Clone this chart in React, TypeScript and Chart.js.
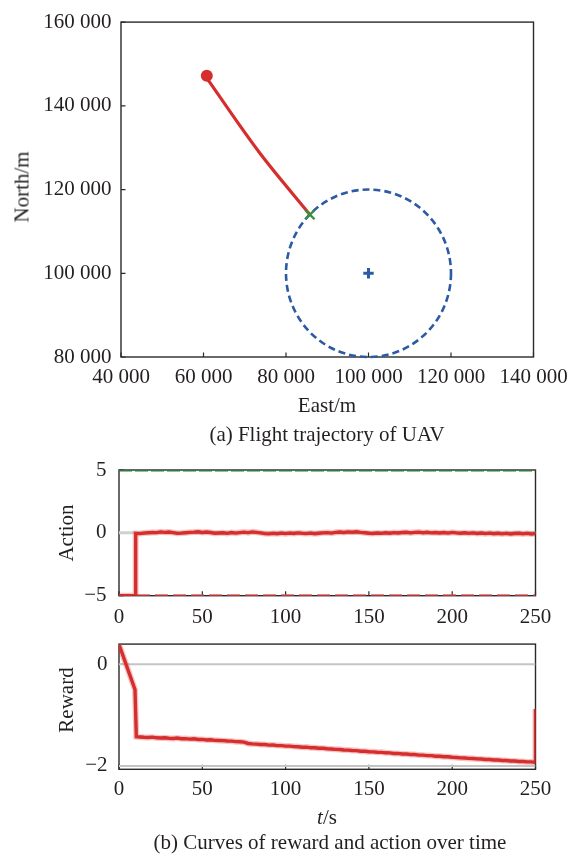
import React, { useEffect, useRef } from "react";
import { Chart, registerables } from "chart.js";

Chart.register(...registerables);

const FONT = '"Liberation Serif", "Times New Roman", Times, serif';
const INK = "#231f20";
const RED = "#d62d2d";
const RED_HALO = "rgba(214,45,45,0.28)";
const BLUE = "#2c5aa3";
const GREEN_MARK = "#3a8f3e";
const GREEN_LINE = "#2f7a3c";
const GREY = "#c4c4c4";

// ---------- (a) Flight trajectory ----------
const EAST_TICKS = [40000, 60000, 80000, 100000, 120000, 140000];
const NORTH_TICKS = [80000, 100000, 120000, 140000, 160000];
const TRAJ_EAST = [60800, 73500, 85800];
const TRAJ_NORTH = [146600, 128900, 114000];
const START_EAST = [60800];
const START_NORTH = [147200];
const END_EAST = [85800];
const END_NORTH = [114000];
const TARGET_EAST = [100000];
const TARGET_NORTH = [100000];
const TARGET_RADIUS = 20000;

// ---------- (b) Action & reward ----------
const TIME_TICKS = [0, 50, 100, 150, 200, 250];
const ACTION_TICKS = [-5, 0, 5];
const REWARD_TICKS = [-2, 0];
const ACTION_LIMITS = [5, -5];
const REWARD_REFS = [0, -2];

const SAMPLE_T = [
  12.5, 15, 17.5, 20, 22.5, 25, 27.5, 30,
  32.5, 35, 37.5, 40, 42.5, 45, 47.5, 50,
  52.5, 55, 57.5, 60, 62.5, 65, 67.5, 70,
  72.5, 75, 77.5, 80, 82.5, 85, 87.5, 90,
  92.5, 95, 97.5, 100, 102.5, 105, 107.5, 110,
  112.5, 115, 117.5, 120, 122.5, 125, 127.5, 130,
  132.5, 135, 137.5, 140, 142.5, 145, 147.5, 150,
  152.5, 155, 157.5, 160, 162.5, 165, 167.5, 170,
  172.5, 175, 177.5, 180, 182.5, 185, 187.5, 190,
  192.5, 195, 197.5, 200, 202.5, 205, 207.5, 210,
  212.5, 215, 217.5, 220, 222.5, 225, 227.5, 230,
  232.5, 235, 237.5, 240, 242.5, 245, 247.5, 250,
];

const ACTION_HEAD_T = [0, 9.8, 10.0];
const ACTION_HEAD_V = [-5, -5, -0.05];
const ACTION_V = [
  -0.06, -0.02, 0.01, 0.03, 0.02, 0.08, 0.04, 0.07,
  0.02, -0.04, -0.02, 0.01, 0.04, 0.06, 0.09, 0.03,
  0.07, 0.03, -0.03, -0.01, 0.01, -0.04, 0.03, -0.02,
  0.02, 0.06, 0.02, 0.08, 0.04, 0.0, -0.06, -0.08,
  -0.04, -0.07, -0.02, -0.06, -0.02, -0.05, 0.0, -0.04,
  -0.06, -0.02, -0.07, -0.03, 0.0, 0.02, -0.02, 0.04,
  0.07, 0.03, 0.08, 0.05, 0.09, 0.04, 0.01, -0.03,
  -0.05, -0.01, -0.04, 0.01, -0.03, 0.02, -0.01, 0.03,
  0.05, 0.0, 0.04, 0.06, 0.01, 0.05, 0.0, 0.03,
  -0.01, 0.03, -0.02, 0.04, 0.0, -0.03, 0.01, -0.04,
  0.0, -0.05, -0.01, -0.06, -0.02, -0.07, -0.03, -0.08,
  -0.04, -0.09, -0.05, -0.03, -0.08, -0.04, -0.09, -0.06,
];

const REWARD_HEAD_T = [0, 9.6, 10.4];
const REWARD_HEAD_V = [0.39, -0.5, -1.425];
const REWARD_V = [
  -1.43, -1.437, -1.44, -1.434, -1.447, -1.45, -1.445, -1.455,
  -1.46, -1.452, -1.465, -1.462, -1.472, -1.466, -1.48, -1.478,
  -1.49, -1.484, -1.497, -1.5, -1.503, -1.51, -1.512, -1.522,
  -1.524, -1.532, -1.558, -1.567, -1.57, -1.578, -1.578, -1.59,
  -1.588, -1.6, -1.6, -1.61, -1.61, -1.62, -1.623, -1.632,
  -1.63, -1.642, -1.643, -1.652, -1.653, -1.662, -1.666, -1.674,
  -1.676, -1.687, -1.688, -1.697, -1.698, -1.71, -1.71, -1.72,
  -1.723, -1.73, -1.733, -1.742, -1.743, -1.754, -1.753, -1.764,
  -1.766, -1.774, -1.776, -1.787, -1.788, -1.797, -1.798, -1.808,
  -1.81, -1.82, -1.82, -1.83, -1.833, -1.842, -1.843, -1.852,
  -1.853, -1.862, -1.864, -1.872, -1.874, -1.882, -1.884, -1.892,
  -1.893, -1.902, -1.903, -1.912, -1.913, -1.92, -1.92, -1.93,
];
const REWARD_TAIL_T = [250];
const REWARD_TAIL_V = [-0.88];

// ---------- helpers ----------
function pts(xs: number[], ys: number[]) {
  const out: { x: number; y: number }[] = [];
  for (let i = 0; i < Math.min(xs.length, ys.length); i++) out.push({ x: xs[i], y: ys[i] });
  return out;
}

function fmt(v: number) {
  const neg = v < 0;
  const a = Math.abs(v);
  let s = String(a);
  if (a >= 10000) s = s.replace(/\B(?=(\d{3})+(?!\d))/g, " ");
  return (neg ? "\u2212" : "") + s;
}

function axisX(min: number, max: number, ticks: number[], height: number, pad: number) {
  return {
    type: "linear",
    min,
    max,
    afterBuildTicks: (s: any) => {
      s.ticks = ticks.map((v) => ({ value: v }));
    },
    afterFit: (s: any) => {
      s.height = height;
    },
    grid: { display: false, drawTicks: false },
    border: { display: false },
    ticks: {
      padding: pad,
      color: INK,
      autoSkip: false,
      maxRotation: 0,
      font: { family: FONT, size: 21 },
      callback: (v: any) => fmt(Number(v)),
    },
  };
}

function axisY(min: number, max: number, ticks: number[], width: number, pad: number) {
  return {
    type: "linear",
    min,
    max,
    afterBuildTicks: (s: any) => {
      s.ticks = ticks.map((v) => ({ value: v }));
    },
    afterFit: (s: any) => {
      s.width = width;
    },
    grid: { display: false, drawTicks: false },
    border: { display: false },
    ticks: {
      padding: pad,
      color: INK,
      autoSkip: false,
      font: { family: FONT, size: 21 },
      callback: (v: any) => fmt(Number(v)),
    },
  };
}

function framePlugin(extra?: (chart: any) => void) {
  return {
    id: "frame",
    beforeDatasetsDraw(chart: any) {
      const { ctx, chartArea: a, scales } = chart;
      ctx.save();
      ctx.strokeStyle = "#2a2a2a";
      ctx.lineWidth = 1.4;
      ctx.strokeRect(a.left, a.top, a.right - a.left, a.bottom - a.top);
      ctx.lineWidth = 1.2;
      ctx.beginPath();
      scales.x.ticks.forEach((t: any) => {
        const px = scales.x.getPixelForValue(t.value);
        ctx.moveTo(px, a.bottom);
        ctx.lineTo(px, a.bottom - 4.5);
      });
      scales.y.ticks.forEach((t: any) => {
        const py = scales.y.getPixelForValue(t.value);
        ctx.moveTo(a.left, py);
        ctx.lineTo(a.left + 4.5, py);
      });
      ctx.stroke();
      ctx.restore();
      if (extra) extra(chart);
    },
  };
}

const baseOptions = (padding: any, x: any, y: any) => ({
  responsive: false,
  maintainAspectRatio: false,
  animation: false,
  devicePixelRatio: 1,
  layout: { padding },
  plugins: { legend: { display: false }, tooltip: { enabled: false } },
  scales: { x, y },
});

function buildTrajectory(canvas: HTMLCanvasElement) {
  const targetCircle = (chart: any) => {
    const { ctx, scales } = chart;
    const cx = scales.x.getPixelForValue(TARGET_EAST[0]);
    const cy = scales.y.getPixelForValue(TARGET_NORTH[0]);
    const rx = Math.abs(scales.x.getPixelForValue(TARGET_EAST[0] + TARGET_RADIUS) - cx);
    const ry = Math.abs(scales.y.getPixelForValue(TARGET_NORTH[0] + TARGET_RADIUS) - cy);
    ctx.save();
    ctx.strokeStyle = BLUE;
    ctx.lineWidth = 2.6;
    ctx.setLineDash([7, 4]);
    ctx.beginPath();
    ctx.ellipse(cx, cy, rx, ry, 0, 0, Math.PI * 2);
    ctx.stroke();
    ctx.restore();
  };
  return new Chart(canvas, {
    type: "scatter",
    data: {
      datasets: [
        {
          data: pts(END_EAST, END_NORTH),
          pointStyle: "crossRot",
          pointRadius: 6.5,
          pointBorderWidth: 2.4,
          borderColor: GREEN_MARK,
          backgroundColor: GREEN_MARK,
        },
        {
          data: pts(TARGET_EAST, TARGET_NORTH),
          pointStyle: "cross",
          pointRadius: 5.2,
          pointBorderWidth: 3,
          borderColor: BLUE,
          backgroundColor: BLUE,
        },
        {
          data: pts(START_EAST, START_NORTH),
          pointStyle: "circle",
          pointRadius: 6,
          pointBorderWidth: 0,
          borderColor: RED,
          backgroundColor: RED,
        },
        {
          data: pts(TRAJ_EAST, TRAJ_NORTH),
          showLine: true,
          borderColor: RED,
          borderWidth: 3.2,
          pointRadius: 0,
          tension: 0.35,
        },
      ],
    } as any,
    options: baseOptions(
      { top: 18, right: 44.5, left: 0, bottom: 0 },
      axisX(40000, 140000, EAST_TICKS, 38, 7.5),
      axisY(80000, 160000, NORTH_TICKS, 121, 9.5)
    ) as any,
    plugins: [framePlugin(targetCircle)],
  });
}

function buildAction(canvas: HTMLCanvasElement) {
  const actionData = [...pts(ACTION_HEAD_T, ACTION_HEAD_V), ...pts(SAMPLE_T, ACTION_V)];
  return new Chart(canvas, {
    type: "scatter",
    data: {
      datasets: [
        {
          data: actionData,
          showLine: true,
          borderColor: RED,
          borderWidth: 3.4,
          pointRadius: 0,
        },
        {
          data: actionData,
          showLine: true,
          borderColor: RED_HALO,
          borderWidth: 6,
          pointRadius: 0,
        },
        {
          data: pts([0, 250], [ACTION_LIMITS[0], ACTION_LIMITS[0]]),
          showLine: true,
          borderColor: GREEN_LINE,
          borderWidth: 3.2,
          borderDash: [13, 3],
          pointRadius: 0,
        },
        {
          data: pts([0, 250], [ACTION_LIMITS[1], ACTION_LIMITS[1]]),
          showLine: true,
          borderColor: "rgba(228,72,72,0.9)",
          borderWidth: 3,
          borderDash: [13, 5],
          pointRadius: 0,
        },
        {
          data: pts([0, 250], [0, 0]),
          showLine: true,
          borderColor: "#d0d0d0",
          borderWidth: 3,
          pointRadius: 0,
        },
      ],
    } as any,
    options: baseOptions(
      { top: 30, right: 42.5, left: 0, bottom: 0 },
      axisX(0, 250, TIME_TICKS, 44.3, 9.5),
      axisY(-5, 5, ACTION_TICKS, 119, 12.5)
    ) as any,
    plugins: [framePlugin()],
  });
}

function buildReward(canvas: HTMLCanvasElement) {
  const rewardData = [
    ...pts(REWARD_HEAD_T, REWARD_HEAD_V),
    ...pts(SAMPLE_T, REWARD_V),
    ...pts(REWARD_TAIL_T, REWARD_TAIL_V),
  ];
  return new Chart(canvas, {
    type: "scatter",
    data: {
      datasets: [
        {
          data: rewardData,
          showLine: true,
          borderColor: RED,
          borderWidth: 3.4,
          pointRadius: 0,
        },
        {
          data: rewardData,
          showLine: true,
          borderColor: RED_HALO,
          borderWidth: 6,
          pointRadius: 0,
        },
        ...REWARD_REFS.map((r) => ({
          data: pts([0, 250], [r, r]),
          showLine: true,
          borderColor: GREY,
          borderWidth: 2,
          pointRadius: 0,
        })),
      ],
    } as any,
    options: baseOptions(
      { top: 22.3, right: 42.5, left: 0, bottom: 0 },
      axisX(0, 250, TIME_TICKS, 35.7, 7.2),
      axisY(-2.066, 0.396, REWARD_TICKS, 119, 11.5)
    ) as any,
    plugins: [framePlugin()],
  });
}

function ChartCanvas({ top, height, build }: { top: number; height: number; build: (c: HTMLCanvasElement) => Chart }) {
  const ref = useRef<HTMLCanvasElement>(null);
  useEffect(() => {
    const chart = build(ref.current as HTMLCanvasElement);
    return () => chart.destroy();
  }, []);
  return (
    <canvas
      ref={ref}
      width={578}
      height={height}
      style={{ position: "absolute", left: 0, top, width: 578, height }}
    />
  );
}

function Label({ x, y, rotate, children }: { x: number; y: number; rotate?: boolean; children: any }) {
  return (
    <div
      style={{
        position: "absolute",
        left: x,
        top: y,
        transform: `translate(-50%, -50%)${rotate ? " rotate(-90deg)" : ""}`,
        fontFamily: FONT,
        fontSize: 21,
        lineHeight: 1,
        whiteSpace: "nowrap",
        color: INK,
      }}
    >
      {children}
    </div>
  );
}

export default function App() {
  return (
    <div
      style={{
        position: "fixed",
        left: 0,
        top: 0,
        width: 578,
        height: 855,
        background: "#fff",
        overflow: "hidden",
      }}
    >
      <ChartCanvas top={0} height={395} build={buildTrajectory} />
      <ChartCanvas top={440} height={200} build={buildAction} />
      <ChartCanvas top={620} height={185} build={buildReward} />
      <Label x={22} y={187} rotate>
        North/m
      </Label>
      <Label x={327} y={405}>East/m</Label>
      <Label x={327} y={434}>(a) Flight trajectory of UAV</Label>
      <Label x={66} y={533} rotate>
        Action
      </Label>
      <Label x={66} y={700} rotate>
        Reward
      </Label>
      <Label x={327} y={817}>
        <i>t</i>/s
      </Label>
      <Label x={330} y={842}>(b) Curves of reward and action over time</Label>
    </div>
  );
}
